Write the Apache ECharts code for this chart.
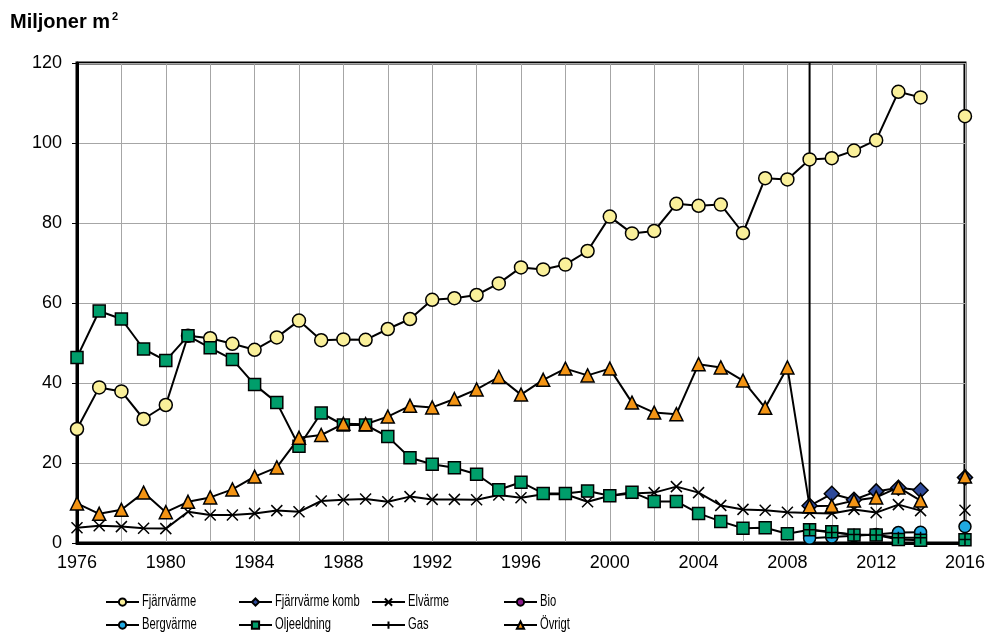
<!DOCTYPE html>
<html>
<head>
<meta charset="utf-8">
<script src="https://cdn.jsdelivr.net/npm/echarts@6/dist/echarts.min.js"></script>
<style>
html, body { margin: 0; padding: 0; background: #fff; }
#chart { width: 988px; height: 642px; }
</style>
</head>
<body>
<div id="chart"></div>
<script>
// år 1976-2016 (2015 saknas)
var years = [1976, 1977, 1978, 1979, 1980, 1981, 1982, 1983, 1984, 1985,
             1986, 1987, 1988, 1989, 1990, 1991, 1992, 1993, 1994, 1995,
             1996, 1997, 1998, 1999, 2000, 2001, 2002, 2003, 2004, 2005,
             2006, 2007, 2008, 2009, 2010, 2011, 2012, 2013, 2014, 2015, 2016];

var fjarrvarme = [28.5, 38.9, 37.9, 31.0, 34.5, 51.8, 51.2, 49.8, 48.3, 51.4,
                  55.6, 50.7, 50.9, 50.8, 53.5, 56.0, 60.8, 61.2, 62.0, 64.9,
                  68.9, 68.4, 69.6, 73.0, 81.6, 77.4, 78.0, 84.8, 84.3, 84.6,
                  77.5, 91.2, 90.9, 95.9, 96.2, 98.1, 100.7, 112.8, 111.4, null, 106.7];

var elvarme = [3.8, 4.3, 4.1, 3.7, 3.6, 7.8, 7.0, 7.0, 7.4, 8.1,
               7.8, 10.5, 10.8, 11.0, 10.3, 11.6, 10.9, 10.9, 10.8, 12.0,
               11.3, 12.2, 12.2, 10.3, 11.8, 12.4, 12.6, 14.1, 12.6, 9.4,
               8.4, 8.2, 7.7, 7.5, 7.4, 8.4, 7.6, 9.6, 8.1, null, 8.2];

var oljeeldning = [46.4, 58.0, 56.0, 48.5, 45.6, 51.8, 48.8, 45.9, 39.6, 35.1,
                   24.2, 32.5, 29.5, 29.5, 26.6, 21.3, 19.7, 18.8, 17.2, 13.3,
                   15.2, 12.4, 12.4, 13.0, 11.8, 12.7, 10.4, 10.4, 7.4, 5.4,
                   3.7, 3.8, 2.3, 3.3, 2.8, 2.0, 2.0, 0.9, 0.7, null, 0.8];

var ovrigt = [9.9, 7.3, 8.3, 12.6, 7.7, 10.3, 11.4, 13.4, 16.6, 18.9,
              26.3, 27.0, 29.8, 29.7, 31.6, 34.3, 33.9, 36.0, 38.4, 41.5,
              37.1, 40.8, 43.6, 41.9, 43.6, 35.1, 32.6, 32.2, 44.7, 43.9,
              40.6, 33.8, 43.9, 9.2, 9.3, 10.6, 11.4, 13.9, 10.6, null, 16.6];

// serier som börjar 2009
var yearsNew = [2009, 2010, 2011, 2012, 2013, 2014, 2015, 2016];
var fjarrKomb = [9.3, 12.3, 10.8, 12.9, 13.8, 13.2, null, 16.4];
var bergvarme = [1.2, 1.5, 1.8, 2.1, 2.6, 2.7, null, 4.1];
var gas = [3.3, 2.6, 2.1, 2.0, 1.3, 1.3, null, 0.9];
var bio = [];

// lodrät linje vid 2009 (brott i serien)
var breakYears = [2009, 2009];
var breakValues = [140, 9.2];

var yTicks = [0, 20, 40, 60, 80, 100, 120];
var xLabelYears = [1976, 1980, 1984, 1988, 1992, 1996, 2000, 2004, 2008, 2012, 2016];

// legendens ordning: två rader, fyra kolumner
var legendNames = ['Fjärrvärme', 'Fjärrvärme komb', 'Elvärme', 'Bio',
                   'Bergvärme', 'Oljeeldning', 'Gas', 'Övrigt'];

function pairs(xs, ys) {
    return xs.map(function (x, i) { return [x, ys[i]]; });
}

var crossX = 'path://M0,0L10,10M10,0L0,10';
var plus = 'path://M5,0L5,10M0,5L10,5';
var font = '"Liberation Sans", Arial, sans-serif';

function lineSeries(name, data, symbol, fill, size) {
    return {
        name: name,
        type: 'line',
        data: data,
        symbol: symbol,
        symbolSize: size,
        showAllSymbol: true,
        connectNulls: false,
        clip: true,
        lineStyle: { color: '#000', width: 2 },
        itemStyle: { color: fill, borderColor: '#000', borderWidth: 1.5 },
        emphasis: { disabled: true }
    };
}

// en legend per post så att kolumnerna hamnar rätt; texten ritas smal för sig
var colLeft = [105, 238, 371, 503];
var rowMid = [602, 625];
var legends = [];
var legendTexts = [];
legendNames.forEach(function (name, i) {
    var col = i % 4, row = Math.floor(i / 4);
    legends.push({
        left: colLeft[col],
        top: rowMid[row] - 4.5,
        padding: 0,
        itemWidth: 33,
        itemHeight: 9,
        selectedMode: false,
        data: [name],
        formatter: function () { return ''; },
        textStyle: { fontSize: 9 }
    });
    legendTexts.push({
        type: 'text',
        left: colLeft[col] + 37,
        top: rowMid[row] - 8,
        scaleX: 0.7,
        originX: colLeft[col] + 37,
        silent: true,
        style: { text: name, fontFamily: font, fontSize: 16, fill: '#000' }
    });
});

var chart = echarts.init(document.getElementById('chart'));

chart.setOption({
    animation: false,
    title: {
        text: '{a|Miljoner m}{b|2}',
        left: 10,
        top: 11,
        padding: 0,
        textStyle: {
            rich: {
                a: { fontFamily: font, fontSize: 20, fontWeight: 'bold', color: '#000', lineHeight: 22 },
                b: { fontFamily: font, fontSize: 11, fontWeight: 'bold', color: '#000',
                     verticalAlign: 'top', lineHeight: 22, padding: [0, 0, 7, 2] }
            }
        }
    },
    legend: legends,
    graphic: legendTexts,
    grid: {
        left: 77, right: 23, top: 63, bottom: 99,
        show: true, borderColor: '#000', borderWidth: 3
    },
    xAxis: {
        type: 'value',
        min: 1976, max: 2016, interval: 2,
        axisLine: { show: true, lineStyle: { color: '#000', width: 3 } },
        axisTick: { show: false },
        splitLine: { show: true, lineStyle: { color: '#a6a6a6', width: 1 } },
        axisLabel: {
            fontFamily: font, fontSize: 18, color: '#000', margin: 11,
            formatter: function (v) { return xLabelYears.indexOf(v) >= 0 ? String(v) : ''; }
        }
    },
    yAxis: {
        type: 'value',
        min: yTicks[0], max: yTicks[yTicks.length - 1], interval: 20,
        axisLine: { show: true, lineStyle: { color: '#000', width: 3 } },
        axisTick: { show: true, length: 5, lineStyle: { color: '#000', width: 1 } },
        splitLine: { show: true, lineStyle: { color: '#a6a6a6', width: 1 } },
        axisLabel: { fontFamily: font, fontSize: 18, color: '#000', margin: 15 }
    },
    series: [
        lineSeries('Fjärrvärme', pairs(years, fjarrvarme), 'circle', '#faf09a', 13),
        {
            name: 'brott2009', type: 'line', data: pairs(breakYears, breakValues),
            symbol: 'none', clip: true, silent: true,
            lineStyle: { color: '#000', width: 2 }
        },
        lineSeries('Fjärrvärme komb', pairs(yearsNew, fjarrKomb), 'diamond', '#2e4a9a', 15),
        lineSeries('Elvärme', pairs(years, elvarme), crossX, 'rgba(0,0,0,0)', 11),
        lineSeries('Bio', bio, 'circle', '#8b1a8b', 12),
        lineSeries('Bergvärme', pairs(yearsNew, bergvarme), 'circle', '#1fa9e1', 12),
        lineSeries('Oljeeldning', pairs(years, oljeeldning), 'rect', '#009e6b', 12),
        lineSeries('Gas', pairs(yearsNew, gas), plus, 'rgba(0,0,0,0)', 12),
        lineSeries('Övrigt', pairs(years, ovrigt), 'triangle', '#f39414', 13)
    ]
});
</script>
</body>
</html>
